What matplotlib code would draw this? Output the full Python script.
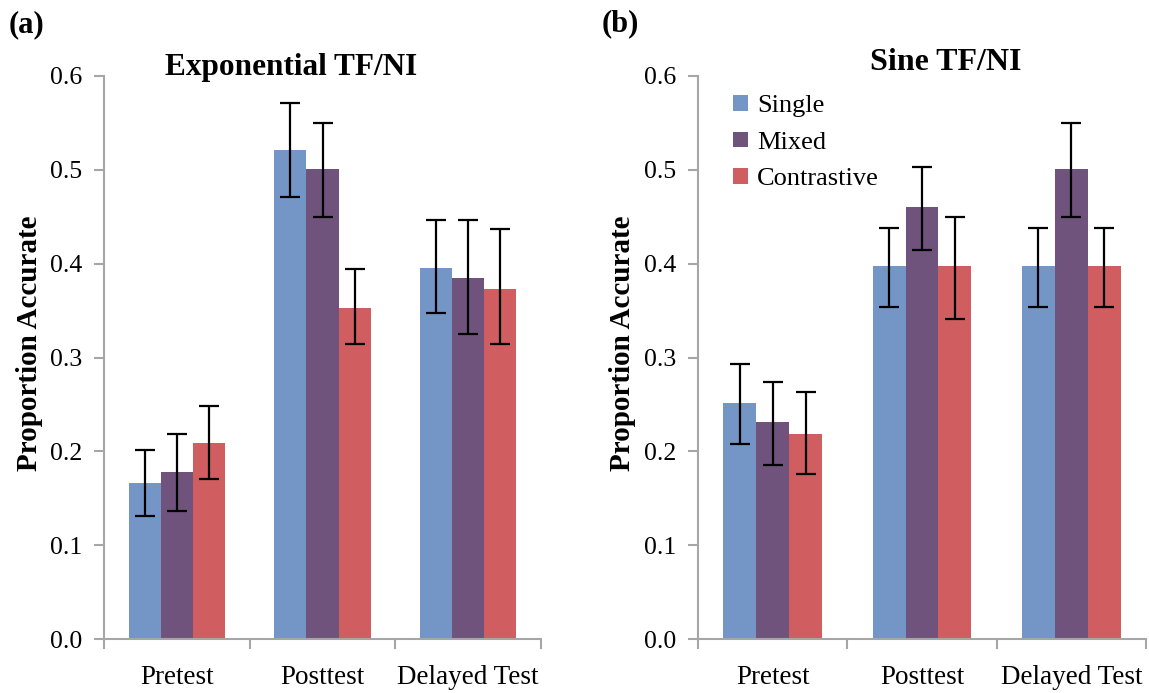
import numpy as np
import matplotlib
matplotlib.use("Agg")
import matplotlib.pyplot as plt

plt.rcParams['font.family'] = ['Liberation Serif', 'DejaVu Serif']

# data
tests = ['Pretest', 'Posttest', 'Delayed Test']
groups = ['Single', 'Mixed', 'Contrastive']
colors = ['#7396C6', '#6F537C', '#D05D60']

exp_mean = [[0.166, 0.521, 0.395],
            [0.178, 0.501, 0.385],
            [0.209, 0.353, 0.373]]
exp_lo = [[0.131, 0.471, 0.347],
          [0.136, 0.450, 0.325],
          [0.170, 0.314, 0.314]]
exp_hi = [[0.201, 0.571, 0.447],
          [0.219, 0.550, 0.447],
          [0.248, 0.394, 0.437]]

sine_mean = [[0.251, 0.397, 0.397],
             [0.231, 0.460, 0.501],
             [0.219, 0.397, 0.397]]
sine_lo = [[0.208, 0.354, 0.354],
           [0.185, 0.415, 0.450],
           [0.176, 0.341, 0.354]]
sine_hi = [[0.293, 0.438, 0.438],
           [0.274, 0.503, 0.550],
           [0.263, 0.450, 0.438]]

W, H = 1149, 693
fig = plt.figure(figsize=(W / 100, H / 100), dpi=100)

axis_gray = '#A6A6A6'


def draw_panel(ax, mean, lo, hi):
    x = np.arange(len(tests))
    w = 0.22
    for i in range(len(groups)):
        m = np.array(mean[i])
        err = [m - np.array(lo[i]), np.array(hi[i]) - m]
        ax.bar(x + (i - 1) * w, m, w, color=colors[i], label=groups[i],
               zorder=2)
        ax.errorbar(x + (i - 1) * w, m, yerr=err, fmt='none', ecolor='black',
                    elinewidth=1.6, capsize=7, capthick=1.6, zorder=3)
    ax.set_xlim(-0.5, 2.5)
    ax.set_ylim(0, 0.6)
    ax.set_yticks(np.arange(0, 0.61, 0.1))
    ax.set_yticklabels(['%.1f' % v for v in np.arange(0, 0.61, 0.1)])
    ax.set_xticks(x)
    ax.set_xticklabels(tests)
    ax.set_xticks([-0.5, 0.5, 1.5, 2.5], minor=True)
    ax.tick_params(axis='x', which='major', length=0, pad=19, labelsize=19.5)
    ax.tick_params(axis='x', which='minor', length=7, color=axis_gray,
                   width=1.5, direction='out')
    ax.tick_params(axis='y', length=7, color=axis_gray, width=1.5, pad=9,
                   labelsize=18.5)
    for s in ['top', 'right']:
        ax.spines[s].set_visible(False)
    for s in ['left', 'bottom']:
        ax.spines[s].set_color(axis_gray)
        ax.spines[s].set_linewidth(1.5)


ax1 = fig.add_axes([104 / W, 1 - 639 / H, (541 - 104) / W, (639 - 76) / H])
draw_panel(ax1, exp_mean, exp_lo, exp_hi)
ax2 = fig.add_axes([698 / W, 1 - 639 / H, (1146 - 698) / W, (639 - 76) / H])
draw_panel(ax2, sine_mean, sine_lo, sine_hi)

fig.text(291 / W, 1 - 68 / H, 'Exponential TF/NI', ha='center', va='center',
         fontsize=22.5, fontweight='bold')
fig.text(946 / W, 1 - 62 / H, 'Sine TF/NI', ha='center', va='center',
         fontsize=23, fontweight='bold')
fig.text(27 / W, 1 - 25 / H, '(a)', ha='center', va='center',
         fontsize=22, fontweight='bold')
fig.text(620 / W, 1 - 24 / H, '(b)', ha='center', va='center',
         fontsize=22, fontweight='bold')
fig.text(30 / W, 1 - 343 / H, 'Proportion Accurate', ha='center',
         va='center', rotation=90, fontsize=21, fontweight='bold')
fig.text(622 / W, 1 - 343 / H, 'Proportion Accurate', ha='center',
         va='center', rotation=90, fontsize=21, fontweight='bold')

ax2.legend(loc='upper left', bbox_to_anchor=(0.055, 0.985), frameon=False,
           fontsize=19, handlelength=0.55, handleheight=0.55,
           handletextpad=0.35, labelspacing=0.54, borderaxespad=0)

fig.savefig('out.png', dpi=100)
